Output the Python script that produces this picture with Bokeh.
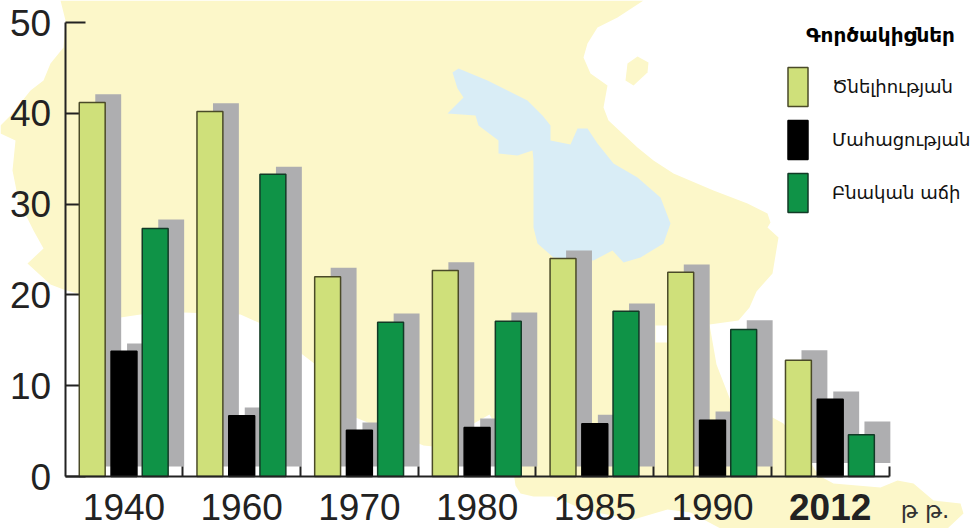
from bokeh.embed import file_html
from bokeh.resources import INLINE
from bokeh.plotting import figure
from bokeh.models import Range1d, LinearAxis, FixedTicker, Legend, LegendItem, ColumnDataSource
from bokeh.core.properties import value

categories = ["1940", "1960", "1970", "1980", "1985", "1990", "2012"]
cat_style = ["normal", "normal", "normal", "normal", "normal", "normal", "bold"]
birth = [41.2, 40.2, 22.0, 22.7, 24.0, 22.5, 12.8]
death = [13.8, 6.7, 5.1, 5.4, 5.8, 6.2, 8.5]
growth = [27.3, 33.3, 17.0, 17.1, 18.2, 16.2, 4.6]
birth_shadow = [42.1, 41.1, 23.0, 23.6, 24.9, 23.35, 13.9]
death_shadow = [14.65, 7.6, 5.95, 6.4, 6.8, 7.15, 9.36]
growth_shadow = [28.3, 34.1, 17.95, 18.05, 19.05, 17.2, 6.06]
y_ticks = [0, 10, 20, 30, 40, 50]
legend_title = "Գործակիցներ"
legend_labels = ["Ծնելիության", "Մահացության", "Բնական աճի"]
unit_label = "թ թ."

# Background map outline in page pixels
land_x = [60,65,63,50,43,30,10,0,0,15,12,18,33,43,27,50,63,80,120,140,183,240,258,302,315,355,423,433,489,510,515,520,533,553,585,633,667,690,720,947,
          963,960,933,913,897,880,833,820,815,800,783,772,745,730,716,709,738,749,756,772,778,767,770,767,747,713,673,653,637,608,603,607,590,583,587,597,617,643]
land_y = [0,20,47,63,80,90,115,125,133,140,170,200,230,248,263,284,289,294,317,314,312,314,322,354,364,417,445,446,414,450,485,493,496,496,510,519,509,512,528,528,
          513,503,500,483,480,487,483,476,470,445,423,417,410,400,364,324,320,307,291,273,237,227,222,213,203,190,173,160,147,120,107,85,73,57,43,27,17,0]
isle_x = [627,637,648,647,633,625]
isle_y = [63,56,62,72,85,80]
lake_x = [452,458,487,527,542,550,550,570,577,587,597,613,637,660,670,663,640,623,612,593,553,537,533,533,532,517,498,498,478,475,447,463,457]
lake_y = [72,68,80,100,115,125,140,144,128,128,143,163,177,197,223,243,257,262,250,260,257,243,227,160,150,155,153,140,125,115,113,97,88]
gap_x = [655,667,669,655]
gap_y = [325,325,342,342]

LIGHT = "#cfe07a"
GREEN = "#0f9347"
GREY = "#aeaeb0"
LAND = "#fcf7c9"
LAKE = "#d9edf6"
INK = "#222222"
FONT = "Liberation Sans"
ARM = "DejaVu Sans"

W, H = 978, 528
xs = list(range(len(categories)))
PX_X = 117.7
PX_Y = 9.08
x0_px, y0_px = 123.5, 476
p = figure(width=W, height=H, output_backend="svg", toolbar_location=None,
           x_range=Range1d((0 - x0_px) / PX_X, (W - x0_px) / PX_X),
           y_range=Range1d((y0_px - H) / PX_Y, (y0_px - 0) / PX_Y),
           min_border=0, x_axis_type=None, y_axis_type=None, outline_line_color=None)
p.grid.visible = False
p.background_fill_color = "white"
p.extra_x_ranges["page"] = Range1d(0, W)
p.extra_y_ranges["page"] = Range1d(H, 0)

for ax, ay, col in [(land_x, land_y, LAND), (isle_x, isle_y, LAND), (lake_x, lake_y, LAKE), (gap_x, gap_y, "white")]:
    p.patch(ax, ay, x_range_name="page", y_range_name="page", fill_color=col, line_color=None, level="image")

OFF = 0.27
BW = 0.22
SH_DX = 0.136
styles = [(birth, birth_shadow, -OFF, LIGHT, "#4a4a28"), (death, death_shadow, 0, "#000000", "#000000"),
          (growth, growth_shadow, OFF - 0.005, GREEN, "#123a26")]
renderers = []
for series, shadow, dx, color, line in styles:
    p.vbar(x=[x + dx + SH_DX for x in xs], top=shadow, bottom=[1.1] * 6 + [1.5],
           width=BW, fill_color=GREY, line_color=None, level="underlay")
for series, shadow, dx, color, line in styles:
    r = p.vbar(x=[x + dx for x in xs], top=series, bottom=0, width=BW, fill_color=color, line_color=line, line_width=1.5)
    renderers.append(r)

# Y axis with inward ticks, kept under the bars as in the picture
yax = LinearAxis(fixed_location=-0.5, ticker=FixedTicker(ticks=y_ticks), level="underlay", bounds=(0, 50),
                 axis_line_color=INK, axis_line_width=2, major_tick_line_color=INK, major_tick_line_width=2,
                 major_tick_in=20, major_tick_out=0, minor_tick_line_color=None,
                 major_label_text_font=FONT, major_label_text_font_size="37px", major_label_text_color=INK,
                 major_label_standoff=14)
p.add_layout(yax, "left")

tick_pos = [x + 0.5 for x in xs]
xax = LinearAxis(fixed_location=0, ticker=FixedTicker(ticks=tick_pos), major_label_overrides={t: "" for t in tick_pos},
                 axis_line_color=INK, axis_line_width=2, major_tick_line_color=INK, major_tick_line_width=2,
                 major_tick_in=10, major_tick_out=0, minor_tick_line_color=None, bounds=(-0.5, 6.5))
p.add_layout(xax, "below")

src = ColumnDataSource(dict(x=xs, y=[-3.4] * len(xs), t=categories, s=cat_style))
p.text("x", "y", text="t", source=src, text_font=value(FONT), text_font_size="37px", text_font_style="s",
       text_color=INK, text_align="center", text_baseline="middle")
p.text([6.6], [-3.68], text=[unit_label], text_font=value(ARM), text_font_size="23px", text_color="#333333",
       text_align="left", text_baseline="middle")
p.text([880], [34], text=[legend_title], x_range_name="page", y_range_name="page", text_font=value(ARM),
       text_font_size="20px", text_font_style="bold", text_color="#000000", text_align="center", text_baseline="middle")

legend = Legend(items=[LegendItem(label=l, renderers=[r]) for l, r in zip(legend_labels, renderers)],
                location=(785, 311), orientation="vertical", padding=0, margin=0, spacing=4,
                glyph_width=25, glyph_height=49, label_standoff=22, label_text_font=ARM, label_text_font_size="18px",
                label_text_color="#111111", background_fill_alpha=0, border_line_alpha=0)
p.add_layout(legend, "center")

open("out.html", "w").write(file_html(p, INLINE))
